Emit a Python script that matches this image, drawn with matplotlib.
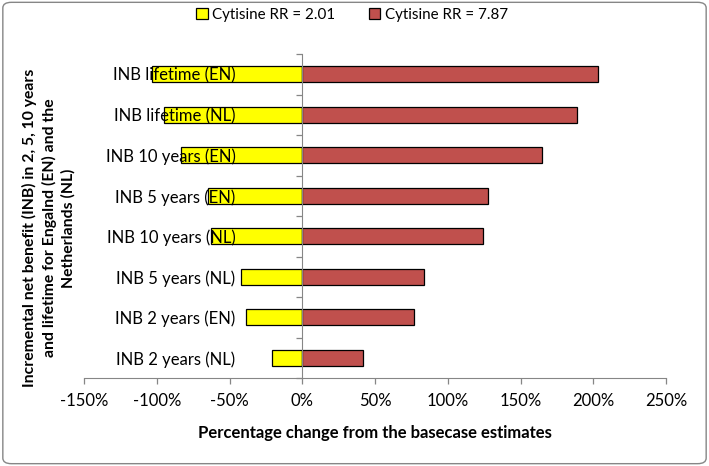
import matplotlib
matplotlib.use("Agg")
import matplotlib.pyplot as plt
from matplotlib.patches import FancyBboxPatch
from matplotlib.ticker import FuncFormatter, FixedLocator
import numpy as np

plt.rcParams['font.family'] = ['Lato', 'DejaVu Sans']

categories = ["INB lifetime (EN)", "INB lifetime (NL)", "INB 10 years (EN)", "INB 5 years (EN)",
              "INB 10 years (NL)", "INB 5 years (NL)", "INB 2 years (EN)", "INB 2 years (NL)"]
rr_low = [-103, -95, -83, -65, -63, -42, -39, -21]
rr_high = [203, 189, 165, 128, 124, 84, 77, 42]
series_names = ["Cytisine RR = 2.01", "Cytisine RR = 7.87"]
x_ticks = [-150, -100, -50, 0, 50, 100, 150, 200, 250]

fig = plt.figure(figsize=(7.09, 4.66), dpi=100)
ax = fig.add_axes([84/709, 88/466, (666-84)/709, (378-54)/466])

n = len(categories)
y = np.arange(n)[::-1]
h = 0.4
ax.barh(y, rr_low, height=h, color="#FFFF00", edgecolor="black", linewidth=0.9, label=series_names[0], zorder=1)
ax.barh(y, rr_high, height=h, color="#C0504D", edgecolor="black", linewidth=0.9, label=series_names[1], zorder=1)

ax.set_xlim(-150, 250)
ax.set_ylim(-0.5, n - 0.5)
ax.set_xticks(x_ticks)
ax.xaxis.set_major_formatter(FuncFormatter(lambda v, p: f"{int(v)}%"))

ax.yaxis.set_major_locator(FixedLocator(np.arange(n + 1) - 0.5))
ax.set_yticklabels([], minor=False)
ax.set_yticks(y, minor=True)
ax.set_yticklabels(categories, minor=True)
ax.tick_params(axis='y', which='minor', length=0, pad=48, labelsize=12)
ax.tick_params(axis='y', which='major', length=4, color="#868686", width=0.9)
ax.tick_params(axis='x', which='major', length=4, color="#868686", width=0.9, labelsize=12, pad=7)

for s in ['top', 'right']:
    ax.spines[s].set_visible(False)
ax.spines['left'].set_position(('data', 0))
ax.spines['left'].set_color("#868686")
ax.spines['bottom'].set_color("#868686")
ax.spines['left'].set_zorder(3)

fig.text(375/709, 1 - 433/466, "Percentage change from the basecase estimates",
         ha='center', va='center', fontsize=12, fontweight='bold')
fig.text(49/709, 1 - 228/466,
         "Incremental net benefit (INB) in 2, 5, 10 years\nand lifetime for Engalnd (EN) and the\nNetherlands (NL)",
         rotation=90, ha='center', va='center', fontsize=11.3, fontweight='bold', linespacing=1.4)

fig.legend(loc='center', bbox_to_anchor=(352/709, 1 - 15/466), ncol=2, frameon=False, fontsize=10.9,
           handlelength=0.75, handleheight=0.75, columnspacing=2.2, handletextpad=0.3, borderaxespad=0.0)

border = FancyBboxPatch((0.004, 0.005), 0.992, 0.99, boxstyle="round,pad=0,rounding_size=0.012",
                        transform=fig.transFigure, fill=False, edgecolor="#868686", linewidth=1.0)
fig.patches.append(border)

fig.savefig("out.png", dpi=100)
